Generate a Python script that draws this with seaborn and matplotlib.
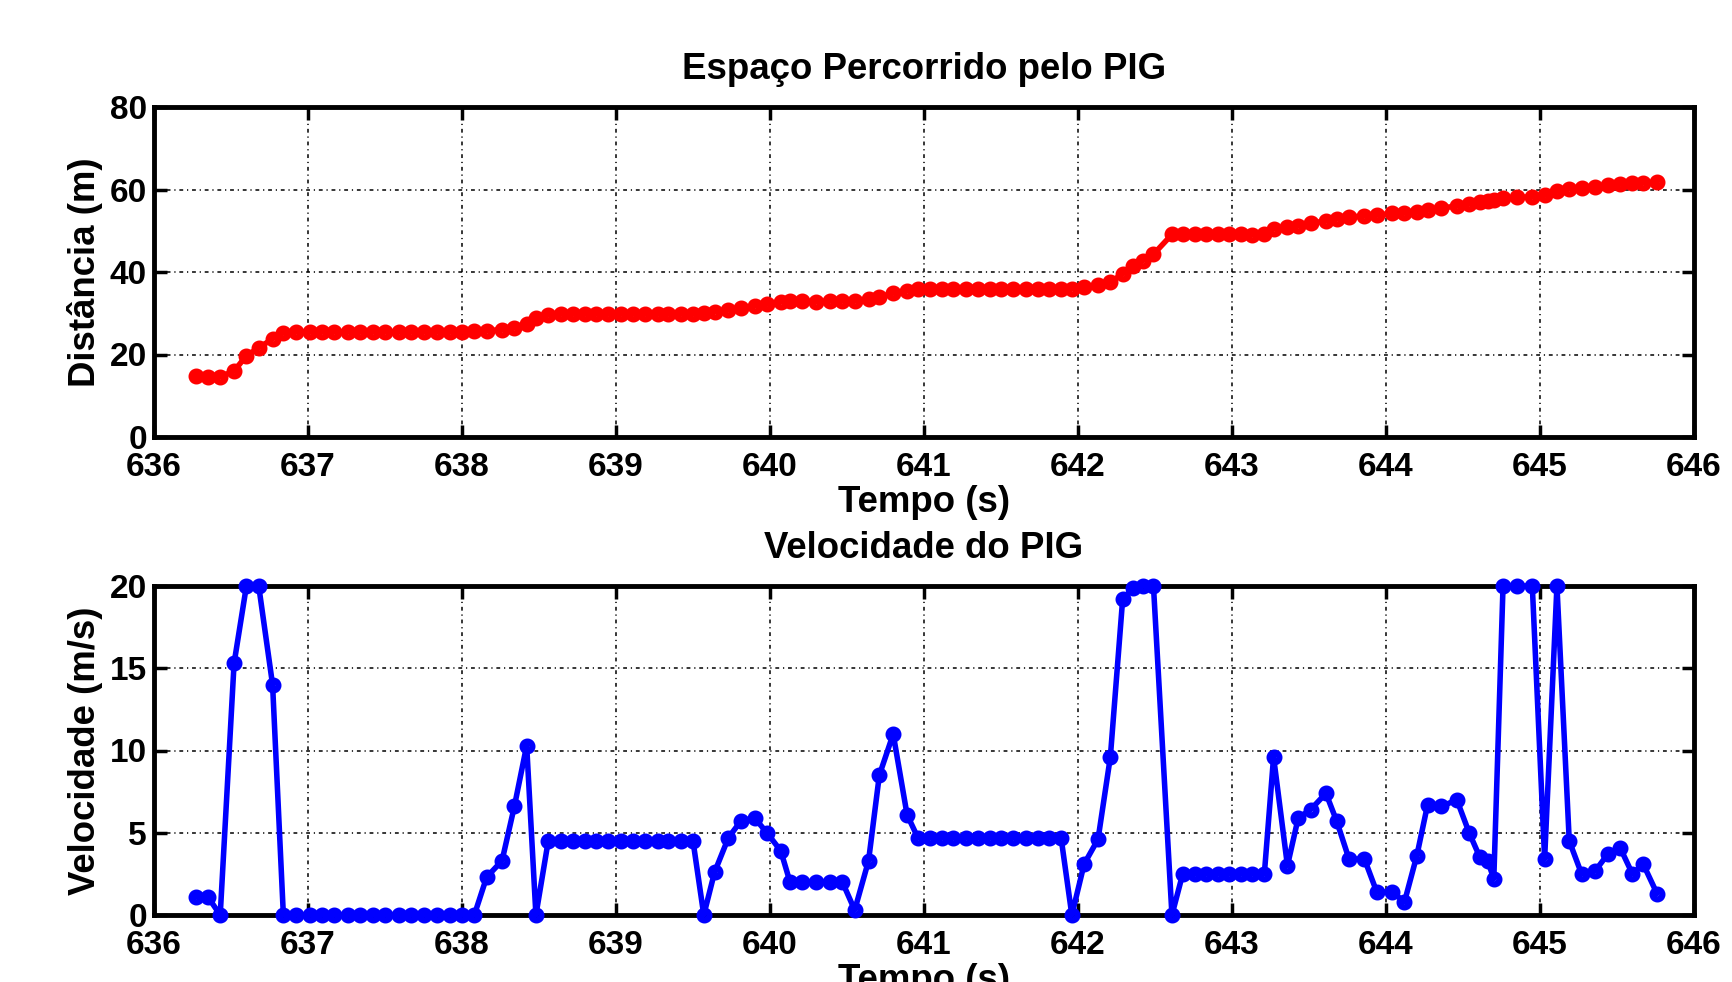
import numpy as np
import pandas as pd
import matplotlib
matplotlib.use("Agg")
import matplotlib.pyplot as plt
import seaborn as sns

# ---------------- data ----------------
tempo = [
    636.27, 636.35, 636.43, 636.52, 636.60, 636.68, 636.77, 636.84,
    636.92, 637.01, 637.09, 637.17, 637.26, 637.34, 637.42, 637.50,
    637.59, 637.67, 637.75, 637.84, 637.92, 638.00, 638.08,
    638.16, 638.26, 638.34, 638.42, 638.48,
    638.56, 638.64, 638.72, 638.80, 638.87, 638.95, 639.03, 639.11,
    639.19, 639.27, 639.34, 639.42, 639.50,
    639.57, 639.64, 639.73, 639.81, 639.90, 639.98, 640.07,
    640.13, 640.21, 640.30, 640.39, 640.47,
    640.55, 640.64, 640.71, 640.80, 640.89,
    640.96, 641.04, 641.12, 641.19, 641.27, 641.35, 641.43, 641.50,
    641.58, 641.66, 641.74, 641.81, 641.89,
    641.96, 642.04, 642.13, 642.21, 642.29, 642.36, 642.42, 642.49,
    642.61, 642.68, 642.76, 642.83, 642.91, 642.98, 643.06, 643.13, 643.21,
    643.27, 643.36, 643.43, 643.51, 643.61, 643.68, 643.76, 643.86,
    643.94, 644.04, 644.12, 644.20, 644.27, 644.36, 644.46, 644.54,
    644.61, 644.66, 644.70, 644.76, 644.85, 644.95, 645.03, 645.11,
    645.19, 645.27, 645.36, 645.44, 645.52, 645.60, 645.67, 645.76,
]

velocidade = [
    1.1, 1.1, 0.0, 15.3, 20.0, 20.0, 14.0, 0.0,
    0.0, 0.0, 0.0, 0.0, 0.0, 0.0, 0.0, 0.0,
    0.0, 0.0, 0.0, 0.0, 0.0, 0.0, 0.0,
    2.3, 3.3, 6.6, 10.3, 0.0,
    4.5, 4.5, 4.5, 4.5, 4.5, 4.5, 4.5, 4.5,
    4.5, 4.5, 4.5, 4.5, 4.5,
    0.0, 2.6, 4.7, 5.7, 5.9, 5.0, 3.9,
    2.0, 2.0, 2.0, 2.0, 2.0,
    0.3, 3.3, 8.5, 11.0, 6.1,
    4.7, 4.7, 4.7, 4.7, 4.7, 4.7, 4.7, 4.7,
    4.7, 4.7, 4.7, 4.7, 4.7,
    0.0, 3.1, 4.6, 9.6, 19.2, 19.9, 20.0, 20.0,
    0.0, 2.5, 2.5, 2.5, 2.5, 2.5, 2.5, 2.5, 2.5,
    9.6, 3.0, 5.9, 6.4, 7.4, 5.7, 3.4, 3.4,
    1.4, 1.4, 0.8, 3.6, 6.7, 6.6, 7.0, 5.0,
    3.5, 3.3, 2.2, 20.0, 20.0, 20.0, 3.4, 20.0,
    4.5, 2.5, 2.7, 3.7, 4.1, 2.5, 3.1, 1.3,
]

distancia = [
    14.7, 14.5, 14.6, 16.0, 19.7, 21.6, 23.8, 25.3,
    25.5, 25.5, 25.5, 25.5, 25.5, 25.5, 25.5, 25.5,
    25.5, 25.5, 25.5, 25.5, 25.5, 25.5, 25.6,
    25.8, 26.0, 26.5, 27.3, 28.8,
    29.6, 29.8, 29.8, 29.8, 29.8, 29.8, 29.8, 29.8,
    29.8, 29.8, 29.8, 29.8, 29.8,
    30.0, 30.4, 30.8, 31.2, 31.8, 32.2, 32.8,
    32.9, 32.9, 32.8, 33.0, 33.0,
    33.0, 33.4, 33.9, 34.9, 35.5,
    35.8, 35.8, 35.8, 35.8, 35.8, 35.8, 35.8, 35.8,
    35.8, 35.8, 35.8, 35.8, 35.8,
    36.0, 36.3, 36.8, 37.6, 39.5, 41.5, 42.7, 44.3,
    49.1, 49.1, 49.1, 49.1, 49.1, 49.1, 49.1, 49.0, 49.1,
    50.5, 50.8, 51.2, 51.8, 52.4, 52.9, 53.3, 53.6,
    53.8, 54.2, 54.3, 54.5, 55.0, 55.5, 56.0, 56.5,
    56.9, 57.2, 57.5, 57.9, 58.1, 58.2, 58.6, 59.6,
    60.2, 60.4, 60.7, 61.0, 61.3, 61.5, 61.6, 61.7,
]

x_ticks = [636, 637, 638, 639, 640, 641, 642, 643, 644, 645, 646]
dist_ticks = [0, 20, 40, 60, 80]
vel_ticks = [0, 5, 10, 15, 20]

titulo_1 = "Espaço Percorrido pelo PIG"
titulo_2 = "Velocidade do PIG"
rotulo_x = "Tempo (s)"
rotulo_y1 = "Distância (m)"
rotulo_y2 = "Velocidade (m/s)"

df = pd.DataFrame({"tempo": tempo, "distancia": distancia, "velocidade": velocidade})

# ---------------- style ----------------
sns.set_theme(style="ticks")
plt.rcParams["font.family"] = ["Liberation Sans", "DejaVu Sans"]
plt.rcParams["font.weight"] = "bold"
plt.rcParams["axes.labelweight"] = "bold"
plt.rcParams["axes.titleweight"] = "bold"
plt.rcParams["text.color"] = "black"
plt.rcParams["axes.labelcolor"] = "black"
plt.rcParams["xtick.color"] = "black"
plt.rcParams["ytick.color"] = "black"

fig = plt.figure(figsize=(17.32, 9.82), dpi=100)
fig.patch.set_facecolor("white")

left, width = 154 / 1732, 1540 / 1732
ax1 = fig.add_axes([left, (982 - 437) / 982, width, 330 / 982])
ax2 = fig.add_axes([left, (982 - 915) / 982, width, 329 / 982])

grid_dash = (0, (2.5, 2.5, 0.8, 2.5))


def style_axes(ax, yticks, ylim, title, ylabel):
    ax.set_xlim(636, 646)
    ax.set_ylim(*ylim)
    ax.set_xticks(x_ticks)
    ax.set_yticks(yticks)
    ax.set_xticklabels([str(v) for v in x_ticks])
    ax.set_yticklabels([str(v) for v in yticks])
    ax.tick_params(axis="both", direction="in", length=9, width=2.5,
                   top=True, right=True, labelsize=24, colors="black")
    ax.tick_params(axis="x", pad=11)
    ax.tick_params(axis="y", pad=5)
    for lab in ax.get_xticklabels() + ax.get_yticklabels():
        lab.set_fontweight("bold")
        lab.set_color("black")
    for sp in ax.spines.values():
        sp.set_visible(True)
        sp.set_linewidth(3.5)
        sp.set_color("black")
    ax.grid(True, color="black", linewidth=1.1, linestyle=grid_dash)
    ax.set_axisbelow(True)
    ax.set_title(title, fontsize=26.4, fontweight="bold", pad=20, color="black")
    ax.set_xlabel(rotulo_x, fontsize=26.4, fontweight="bold", labelpad=1, color="black")
    ax.set_ylabel(ylabel, fontsize=26.4, fontweight="bold", labelpad=5, color="black")
    ax.set_facecolor("white")


line_kw = dict(linewidth=4, marker="o", markersize=7, markerfacecolor="none",
               markeredgewidth=4.5, sort=False, estimator=None,
               clip_on=False, zorder=5)

sns.lineplot(data=df, x="tempo", y="distancia", ax=ax1, color="#FF0000",
             markeredgecolor="#FF0000", **line_kw)
sns.lineplot(data=df, x="tempo", y="velocidade", ax=ax2, color="#0000FF",
             markeredgecolor="#0000FF", **line_kw)

style_axes(ax1, dist_ticks, (0, 80), titulo_1, rotulo_y1)
style_axes(ax2, vel_ticks, (0, 20), titulo_2, rotulo_y2)

fig.savefig("out.png", dpi=100, facecolor="white")
